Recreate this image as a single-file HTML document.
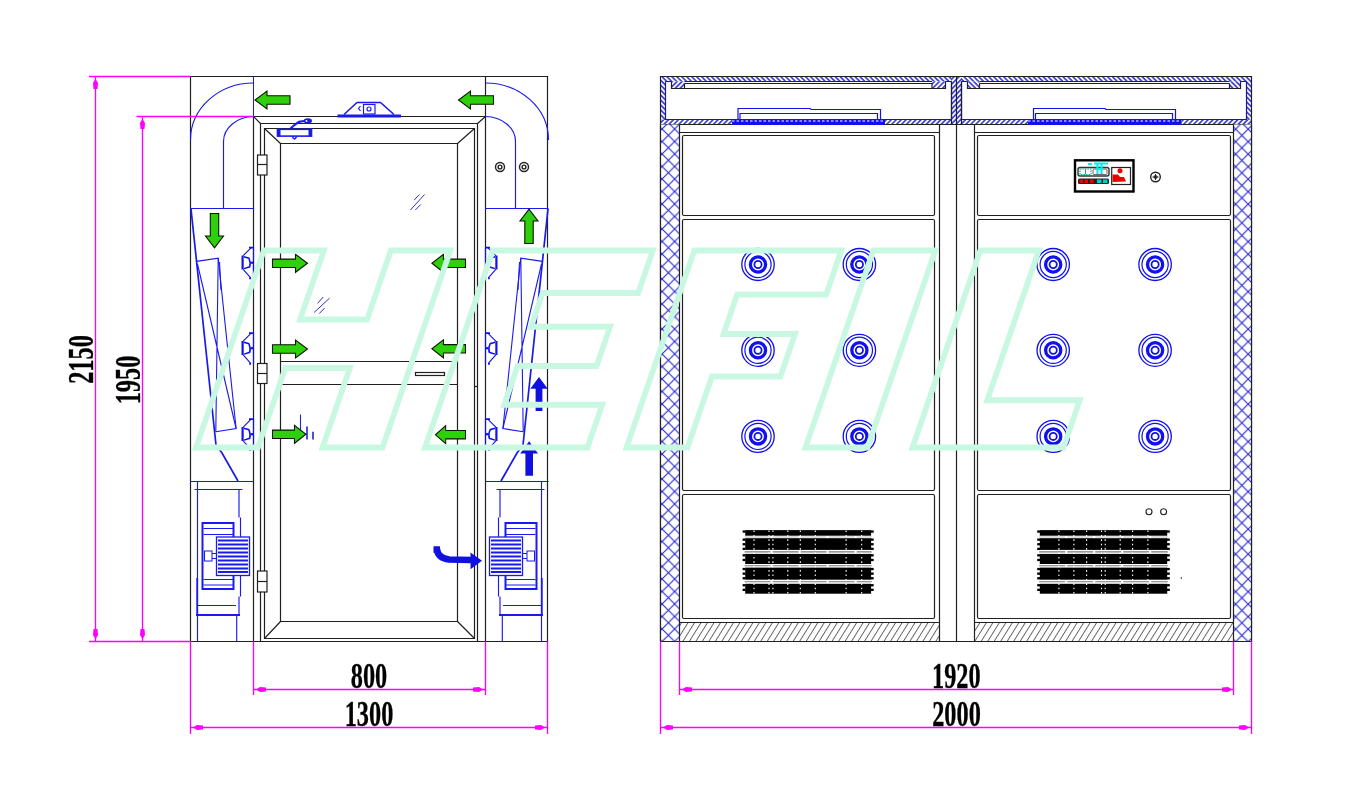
<!DOCTYPE html>
<html><head><meta charset="utf-8"><title>Air Shower Drawing</title>
<style>
html,body{margin:0;padding:0;background:#fff;width:1352px;height:790px;overflow:hidden;}
svg{display:block;}
text{font-family:"Liberation Serif",serif;font-weight:bold;}
</style></head><body>
<svg width="1352" height="790" viewBox="0 0 1352 790">
<defs>
  <pattern id="hb" patternUnits="userSpaceOnUse" width="3.5" height="3.5" patternTransform="rotate(-45)">
    <rect width="3.5" height="3.5" fill="#fff"/>
    <line x1="0.9" y1="0" x2="0.9" y2="3.5" stroke="#2a2ad0" stroke-width="1.5"/>
  </pattern>
  <pattern id="hf" patternUnits="userSpaceOnUse" width="3.5" height="3.5" patternTransform="rotate(45)">
    <rect width="3.5" height="3.5" fill="#fff"/>
    <line x1="0.9" y1="0" x2="0.9" y2="3.5" stroke="#2a2ad0" stroke-width="1.5"/>
  </pattern>
  <pattern id="xb" patternUnits="userSpaceOnUse" width="12.5" height="12.5" x="-0.4" y="4">
    <rect width="12.5" height="12.5" fill="#fff"/>
    <path d="M0,0 L12.5,12.5 M0,12.5 L12.5,0" stroke="#2424d8" stroke-width="1.1"/>
  </pattern>
  <pattern id="xb2" patternUnits="userSpaceOnUse" width="12.5" height="12.5" x="10.65" y="4.15">
    <rect width="12.5" height="12.5" fill="#fff"/>
    <path d="M0,0 L12.5,12.5 M0,12.5 L12.5,0" stroke="#2424d8" stroke-width="1.1"/>
  </pattern>
  <pattern id="hg" patternUnits="userSpaceOnUse" width="5.5" height="5.5" patternTransform="rotate(32)">
    <rect width="5.5" height="5.5" fill="#fff"/>
    <line x1="0.5" y1="0" x2="0.5" y2="5.5" stroke="#5a5a5a" stroke-width="0.9"/>
  </pattern>
  <!-- green arrow pointing right, tip at (35,0) -->
  <path id="arR" d="M0,-4.2 L23,-4.2 L23,-9 L35,0 L23,9 L23,4.2 L0,4.2 Z" fill="#2ed00c" stroke="#0a1500" stroke-width="1.1"/>
  <!-- nozzle front view -->
  <g id="noz" fill="none" stroke="#1010f0">
    <ellipse cx="0" cy="0" rx="16.2" ry="16" stroke-width="1.3"/>
    <circle cx="0" cy="0" r="13.1" stroke-width="1.2"/>
    <circle cx="0" cy="0" r="7.6" stroke-width="3.3"/>
    <circle cx="0" cy="0" r="3.6" stroke-width="1.8"/>
  </g>
  <!-- side nozzle (left column) facing right -->
  <g id="snz" fill="none" stroke="#1010f0">
    <line x1="0" y1="-15.8" x2="0" y2="16" stroke-width="1.2"/>
    <path d="M-4.5,-15.4 H0 M-4.3,15.4 H-2.5" stroke-width="1.6"/>
    <path d="M-10.3,-7.3 L-2.3,-15.4 M-10.3,6.3 L-2.8,14.9" stroke-width="1.1"/>
    <line x1="-10.9" y1="-7.5" x2="-10.9" y2="6.5" stroke-width="2.2"/>
    <path d="M-9.6,-6.2 L-4.6,-4.8 Q-2.6,0 -3.8,3.8 L-9.4,5.6" stroke-width="1.5"/>
    <path d="M-3.2,-0.3 H0" stroke-width="2.2"/>
  </g>
</defs>

<!-- ================= LEFT VIEW ================= -->
<g id="leftview" fill="none" stroke="#202020" stroke-width="1.2">
  <!-- outer box -->
  <path d="M190.5,76.5 H547.5 V641.5 H190.5 Z"/>
  <line x1="253.5" y1="116.5" x2="253.5" y2="641.5"/>
  <line x1="485.5" y1="76.5" x2="485.5" y2="641.5"/>
  <line x1="253.5" y1="116.5" x2="485.5" y2="116.5"/>
  <!-- door -->
  <path d="M260.5,641.5 V123.5 H477.5 V641.5"/>
  <path d="M264.5,638.5 V128.5 H474.5 V638.5 Z"/>
  <path d="M280.5,621.5 V143.5 H457.5 V621.5 Z"/>
  <line x1="280.5" y1="361.5" x2="457.5" y2="361.5"/>
  <line x1="280.5" y1="384.5" x2="457.5" y2="384.5"/>
  <path d="M253.5,116.5 L260.5,123.5 M485.5,116.5 L477.5,123.5 M264.5,128.5 L280.5,143.5 M474.5,128.5 L457.5,143.5 M264.5,638.5 L280.5,621.5 M474.5,638.5 L457.5,621.5"/>
  <rect x="415.5" y="372.5" width="29" height="3"/>
  <!-- hinges -->
  <g fill="#fff">
    <rect x="257.5" y="155" width="9.5" height="20"/><line x1="257.5" y1="164.5" x2="267" y2="164.5"/>
    <rect x="257.5" y="363.5" width="9.5" height="20"/><line x1="257.5" y1="373.5" x2="267" y2="373.5"/>
    <rect x="257.5" y="571" width="9.5" height="21"/><line x1="257.5" y1="581.5" x2="267" y2="581.5"/>
  </g>
  <path d="M474.5,386.5 H477.5"/>
  <!-- screws top right -->
  <g stroke-width="1.4" stroke="#222">
    <circle cx="500" cy="167" r="4.5"/><circle cx="500" cy="167" r="1.9"/>
    <circle cx="524" cy="167" r="4.5"/><circle cx="524" cy="167" r="1.9"/>
  </g>
</g>

<!-- top line blue segment and ducts -->
<g fill="none" stroke="#1a1aee" stroke-width="1">
  <line x1="253.5" y1="76.5" x2="253.5" y2="116.5"/>
</g>

<!-- left column blue internals (mirrored to right) -->
<g id="colL" fill="none" stroke="#1a1aee" stroke-width="1.15">
  <path d="M253.5,83 A63,57 0 0 0 190.5,140"/>
  <path d="M253.5,116.5 A30.5,25 0 0 0 223.5,141.5 V208.5"/>
  <line x1="190.5" y1="208.5" x2="253.5" y2="208.5"/>
  <!-- duct wall / filter -->
  <path d="M191,209 L216,445 L222,453 L238,481" stroke-width="1.7"/>
  <path d="M196.6,261.4 L218.2,258.2 L236.1,428.5 L215.8,431.8" stroke-width="1.1"/>
  <path d="M218.2,258.2 L215.8,431.8 M197.5,264 L236.1,428.5 M219.5,262 L221,290" stroke-width="1.1"/>
  <!-- fan section -->
  <line x1="190.5" y1="481.5" x2="253.5" y2="481.5"/>
  <line x1="194.5" y1="489.5" x2="242.5" y2="489.5"/>
  <line x1="197.5" y1="481.5" x2="197.5" y2="641.5"/>
  <path d="M239,489.5 V517.5 M240.5,517.5 V596.5 M239,596.5 V615"/>
  <line x1="197.2" y1="578" x2="197.2" y2="616" stroke-width="1.8"/>
  <rect x="202.5" y="523" width="31" height="66" stroke-width="2"/>
  <path d="M203.5,528.5 H233 M203.5,534.5 H233 M203.5,579.5 H233 M203.5,585 H233" stroke-width="1"/>
  <rect x="216.5" y="537" width="33" height="38.5" fill="#fff" stroke-width="1.3"/>
  <path d="M218,540.5 H248 M218,544.5 H248 M218,548.5 H248 M218,552.5 H248 M218,556.5 H248 M218,560.5 H248 M218,564.5 H248 M218,568.5 H248 M218,572 H248" stroke-width="2.1"/>
  <rect x="204.5" y="551" width="7.5" height="10" stroke-width="1"/>
  <path d="M212,553.5 H216.5 M212,558.5 H216.5" stroke-width="1"/>
  <line x1="198" y1="605.5" x2="236" y2="605.5"/>
  <line x1="196" y1="615" x2="240" y2="615" stroke-width="2"/>
  <line x1="236.7" y1="615" x2="236.7" y2="641.5"/>
  <!-- side nozzles -->
  <use href="#snz" transform="translate(253.5,263)"/>
  <use href="#snz" transform="translate(253.5,348.5)"/>
  <use href="#snz" transform="translate(253.5,434.5)"/>
</g>
<use href="#colL" transform="matrix(-1,0,0,1,739,0)"/>

<!-- door closer & top bar -->
<g fill="none" stroke="#1a1aee">
  <rect x="277.5" y="129.3" width="34" height="6.8" stroke-width="1.6"/>
  <rect x="277" y="129" width="3.5" height="7.5" fill="#1a1aee" stroke="none"/>
  <rect x="308.5" y="129" width="3.5" height="7.5" fill="#1a1aee" stroke="none"/>
  <path d="M290.5,128.5 L295,124.5 L299,121.8 L304,121" stroke-width="2.2"/>
  <ellipse cx="307.8" cy="120.8" rx="4.2" ry="2.6" fill="#1a1aee" stroke="none"/>
  <circle cx="306.5" cy="121" r="0.9" fill="#fff" stroke="none"/>
  <path d="M292.5,136.5 Q294.5,141.5 296.5,136.5" stroke-width="1.6"/>
  <line x1="337.5" y1="116" x2="401" y2="116" stroke-width="3.2"/>
  <path d="M344,114.5 L357,102.5 H380.5 L394,114.5" stroke-width="1.6"/>
  <rect x="363.5" y="104.5" width="11.5" height="9.5" stroke-width="1.2"/>
  <circle cx="369" cy="109" r="2" stroke-width="1.2"/>
  <path d="M360.5,106 L358.5,108.5 L360.5,111" stroke-width="1.2"/>
</g>

<!-- ================= RIGHT VIEW ================= -->
<g id="rightview">
  <!-- top hatched bands -->
  <rect x="660.5" y="76.5" width="591" height="5" fill="url(#hb)"/>
  <rect x="660.5" y="76.5" width="5" height="48" fill="url(#hb)"/>
  <rect x="1246.5" y="76.5" width="5" height="48" fill="url(#hb)"/>
  <rect x="951.5" y="76.5" width="10" height="48" fill="url(#hf)"/>
  <rect x="660.5" y="119.5" width="591" height="5" fill="url(#hf)"/>
  <rect x="671.5" y="81.5" width="13" height="7" fill="url(#hf)"/>
  <rect x="932" y="81.5" width="13.5" height="7" fill="url(#hf)"/>
  <rect x="967.5" y="81.5" width="12" height="7" fill="url(#hb)"/>
  <rect x="1229.5" y="81.5" width="11" height="7" fill="url(#hb)"/>
  <g fill="none" stroke="#202020" stroke-width="1.2">
    <path d="M660.5,76.5 H1251.5 V641.5 H660.5 Z"/>
    <path d="M665.5,81.5 V119.5 H951.5 V81.5 M961.5,81.5 V119.5 H1246.5 V81.5 M665.5,81.5 H671.5 M684.5,81.5 H932 M945.5,81.5 H951.5 M961.5,81.5 H967.5 M979.5,81.5 H1229.5 M1240.5,81.5 H1246.5" stroke="#1c1c80"/>
    <path d="M684.5,83.5 H932 M684.5,88.5 H932 M979.5,83.5 H1229.5 M979.5,88.5 H1229.5"/>
    <path d="M671.5,81.5 V88.5 H684.5 V83.5 M932,83.5 V88.5 H945.5 V81.5 M967.5,81.5 V88.5 H979.5 V83.5 M1229.5,83.5 V88.5 H1240.5 V81.5"/>
    <path d="M951.5,81.5 V124.5 M961.5,81.5 V124.5"/>
    <line x1="660.5" y1="124.5" x2="1251.5" y2="124.5"/>
    <line x1="956.5" y1="76.5" x2="956.5" y2="641.5"/>
  </g>
  <!-- hoods (blue) -->
  <g fill="none" stroke="#1010f0">
    <rect x="732" y="119" width="153" height="6" fill="#1010f0" stroke="none"/>
    <rect x="1028" y="119" width="153.5" height="6" fill="#1010f0" stroke="none"/>
    <path d="M732,121 H885 M1028,121 H1181.5" stroke="#fff" stroke-width="1" stroke-dasharray="2.5,2"/>
    <path d="M738,119 V108.5 H810 L811,109.5 H880.5 V119" stroke-width="1.2"/>
    <path d="M740,119 V113.5 H877.5 V119" stroke-width="1.2"/>
    <path d="M1033.5,119 V108.5 H1105 L1106,109.5 H1175.5 V119" stroke-width="1.2"/>
    <path d="M1035.5,119 V113.5 H1172.5 V119" stroke-width="1.2"/>
  </g>
  <!-- crosshatch columns -->
  <rect x="660.5" y="124.5" width="18.7" height="517" fill="url(#xb)"/>
  <rect x="1233.5" y="124.5" width="18" height="517" fill="url(#xb2)"/>
  <!-- base hatch -->
  <rect x="679.5" y="622.5" width="260" height="19" fill="url(#hg)"/>
  <rect x="974.5" y="622.5" width="259" height="19" fill="url(#hg)"/>
  <g fill="none" stroke="#202020" stroke-width="1.2">
    <path d="M660.5,124.5 V641.5 M679.5,124.5 V641.5 M1233.5,124.5 V641.5 M1251.5,124.5 V641.5"/>
    <path d="M679.5,132.5 H939.5 M939.5,124.5 V641.5 M679.5,622.5 H939.5"/>
    <path d="M974.5,641.5 V124.5 M974.5,132.5 H1233.5 M974.5,622.5 H1233.5"/>
    <!-- panels left -->
    <rect x="682.5" y="135.5" width="252" height="80" rx="1.5"/>
    <rect x="682.5" y="219.5" width="252" height="271" rx="1.5"/>
    <rect x="682.5" y="494.5" width="252" height="124" rx="1.5"/>
    <!-- panels right -->
    <rect x="977.5" y="135.5" width="253" height="80" rx="1.5"/>
    <rect x="977.5" y="219.5" width="253" height="271" rx="1.5"/>
    <rect x="977.5" y="494.5" width="253" height="124" rx="1.5"/>
    <line x1="660.5" y1="641.5" x2="1251.5" y2="641.5"/>
  </g>
  <!-- nozzles -->
  <use href="#noz" x="758" y="264.5"/>
  <use href="#noz" x="758" y="350.3"/>
  <use href="#noz" x="758" y="436.4"/>
  <use href="#noz" x="859.4" y="264.5"/>
  <use href="#noz" x="859.4" y="350.3"/>
  <use href="#noz" x="859.4" y="436.4"/>
  <use href="#noz" x="1053.2" y="264.5"/>
  <use href="#noz" x="1053.2" y="350.3"/>
  <use href="#noz" x="1053.2" y="436.4"/>
  <use href="#noz" x="1155.1" y="264.5"/>
  <use href="#noz" x="1155.1" y="350.3"/>
  <use href="#noz" x="1155.1" y="436.4"/>
  <!-- grilles -->
  <g>
    <rect x="745.2" y="530.1" width="125.9" height="5.6" fill="#000"/>
    <rect x="742.6" y="530.4" width="2.8" height="2.3" fill="#000"/>
    <rect x="870.9" y="530.4" width="2.8" height="2.3" fill="#000"/>
    <rect x="745.2" y="538.2" width="125.9" height="11.7" fill="#000"/>
    <rect x="742.6" y="538.5" width="2.8" height="2.3" fill="#000"/>
    <rect x="870.9" y="538.5" width="2.8" height="2.3" fill="#000"/>
    <rect x="742.6" y="543.1" width="2.8" height="2.3" fill="#000"/>
    <rect x="870.9" y="543.1" width="2.8" height="2.3" fill="#000"/>
    <rect x="742.6" y="547.7" width="2.8" height="2.3" fill="#000"/>
    <rect x="870.9" y="547.7" width="2.8" height="2.3" fill="#000"/>
    <rect x="745.2" y="553.9" width="125.9" height="10.1" fill="#000"/>
    <rect x="742.6" y="554.2" width="2.8" height="2.3" fill="#000"/>
    <rect x="870.9" y="554.2" width="2.8" height="2.3" fill="#000"/>
    <rect x="742.6" y="558.8" width="2.8" height="2.3" fill="#000"/>
    <rect x="870.9" y="558.8" width="2.8" height="2.3" fill="#000"/>
    <rect x="745.2" y="567.6" width="125.9" height="12.1" fill="#000"/>
    <rect x="742.6" y="567.9" width="2.8" height="2.3" fill="#000"/>
    <rect x="870.9" y="567.9" width="2.8" height="2.3" fill="#000"/>
    <rect x="742.6" y="572.5" width="2.8" height="2.3" fill="#000"/>
    <rect x="870.9" y="572.5" width="2.8" height="2.3" fill="#000"/>
    <rect x="742.6" y="577.1" width="2.8" height="2.3" fill="#000"/>
    <rect x="870.9" y="577.1" width="2.8" height="2.3" fill="#000"/>
    <rect x="745.2" y="583.8" width="125.9" height="9.9" fill="#000"/>
    <rect x="742.6" y="584.1" width="2.8" height="2.3" fill="#000"/>
    <rect x="870.9" y="584.1" width="2.8" height="2.3" fill="#000"/>
    <rect x="742.6" y="588.7" width="2.8" height="2.3" fill="#000"/>
    <rect x="870.9" y="588.7" width="2.8" height="2.3" fill="#000"/>
    <line x1="744.6" y1="537.0" x2="871.7" y2="537.0" stroke="#aaa" stroke-width="0.8" stroke-dasharray="26,2"/>
    <line x1="744.6" y1="551.9" x2="871.7" y2="551.9" stroke="#777" stroke-width="1.1" stroke-dasharray="26,2"/>
    <line x1="744.6" y1="565.8" x2="871.7" y2="565.8" stroke="#777" stroke-width="1.1" stroke-dasharray="26,2"/>
    <line x1="744.6" y1="581.75" x2="871.7" y2="581.75" stroke="#777" stroke-width="1.1" stroke-dasharray="26,2"/>
    <line x1="754" y1="530.5" x2="754" y2="593.5" stroke="#fff" stroke-width="1.1" stroke-dasharray="1.6,2.8"/>
    <line x1="769" y1="530.5" x2="769" y2="593.5" stroke="#fff" stroke-width="1.1" stroke-dasharray="1.6,2.8"/>
    <line x1="772.9" y1="530.5" x2="772.9" y2="593.5" stroke="#fff" stroke-width="1.1" stroke-dasharray="1.6,2.8"/>
    <line x1="787.8" y1="530.5" x2="787.8" y2="593.5" stroke="#fff" stroke-width="1.1" stroke-dasharray="1.6,2.8"/>
    <line x1="800.3" y1="530.5" x2="800.3" y2="593.5" stroke="#fff" stroke-width="1.1" stroke-dasharray="1.6,2.8"/>
    <line x1="815.3" y1="530.5" x2="815.3" y2="593.5" stroke="#fff" stroke-width="1.1" stroke-dasharray="1.6,2.8"/>
    <line x1="846.1" y1="530.5" x2="846.1" y2="593.5" stroke="#fff" stroke-width="1.1" stroke-dasharray="1.6,2.8"/>
    <line x1="861.7" y1="530.5" x2="861.7" y2="593.5" stroke="#fff" stroke-width="1.1" stroke-dasharray="1.6,2.8"/>
  </g>
  <g>
    <rect x="1039.8" y="530.1" width="127.4" height="5.6" fill="#000"/>
    <rect x="1037.2" y="530.4" width="2.8" height="2.3" fill="#000"/>
    <rect x="1167.0" y="530.4" width="2.8" height="2.3" fill="#000"/>
    <rect x="1039.8" y="538.2" width="127.4" height="11.7" fill="#000"/>
    <rect x="1037.2" y="538.5" width="2.8" height="2.3" fill="#000"/>
    <rect x="1167.0" y="538.5" width="2.8" height="2.3" fill="#000"/>
    <rect x="1037.2" y="543.1" width="2.8" height="2.3" fill="#000"/>
    <rect x="1167.0" y="543.1" width="2.8" height="2.3" fill="#000"/>
    <rect x="1037.2" y="547.7" width="2.8" height="2.3" fill="#000"/>
    <rect x="1167.0" y="547.7" width="2.8" height="2.3" fill="#000"/>
    <rect x="1039.8" y="553.9" width="127.4" height="10.1" fill="#000"/>
    <rect x="1037.2" y="554.2" width="2.8" height="2.3" fill="#000"/>
    <rect x="1167.0" y="554.2" width="2.8" height="2.3" fill="#000"/>
    <rect x="1037.2" y="558.8" width="2.8" height="2.3" fill="#000"/>
    <rect x="1167.0" y="558.8" width="2.8" height="2.3" fill="#000"/>
    <rect x="1039.8" y="567.6" width="127.4" height="12.1" fill="#000"/>
    <rect x="1037.2" y="567.9" width="2.8" height="2.3" fill="#000"/>
    <rect x="1167.0" y="567.9" width="2.8" height="2.3" fill="#000"/>
    <rect x="1037.2" y="572.5" width="2.8" height="2.3" fill="#000"/>
    <rect x="1167.0" y="572.5" width="2.8" height="2.3" fill="#000"/>
    <rect x="1037.2" y="577.1" width="2.8" height="2.3" fill="#000"/>
    <rect x="1167.0" y="577.1" width="2.8" height="2.3" fill="#000"/>
    <rect x="1039.8" y="583.8" width="127.4" height="9.9" fill="#000"/>
    <rect x="1037.2" y="584.1" width="2.8" height="2.3" fill="#000"/>
    <rect x="1167.0" y="584.1" width="2.8" height="2.3" fill="#000"/>
    <rect x="1037.2" y="588.7" width="2.8" height="2.3" fill="#000"/>
    <rect x="1167.0" y="588.7" width="2.8" height="2.3" fill="#000"/>
    <line x1="1039.2" y1="537.0" x2="1167.8" y2="537.0" stroke="#aaa" stroke-width="0.8" stroke-dasharray="26,2"/>
    <line x1="1039.2" y1="551.9" x2="1167.8" y2="551.9" stroke="#777" stroke-width="1.1" stroke-dasharray="26,2"/>
    <line x1="1039.2" y1="565.8" x2="1167.8" y2="565.8" stroke="#777" stroke-width="1.1" stroke-dasharray="26,2"/>
    <line x1="1039.2" y1="581.75" x2="1167.8" y2="581.75" stroke="#777" stroke-width="1.1" stroke-dasharray="26,2"/>
    <line x1="1058.9" y1="530.5" x2="1058.9" y2="593.5" stroke="#fff" stroke-width="1.1" stroke-dasharray="1.6,2.8"/>
    <line x1="1073.9" y1="530.5" x2="1073.9" y2="593.5" stroke="#fff" stroke-width="1.1" stroke-dasharray="1.6,2.8"/>
    <line x1="1086.6" y1="530.5" x2="1086.6" y2="593.5" stroke="#fff" stroke-width="1.1" stroke-dasharray="1.6,2.8"/>
    <line x1="1101.5" y1="530.5" x2="1101.5" y2="593.5" stroke="#fff" stroke-width="1.1" stroke-dasharray="1.6,2.8"/>
    <line x1="1105.2" y1="530.5" x2="1105.2" y2="593.5" stroke="#fff" stroke-width="1.1" stroke-dasharray="1.6,2.8"/>
    <line x1="1120.2" y1="530.5" x2="1120.2" y2="593.5" stroke="#fff" stroke-width="1.1" stroke-dasharray="1.6,2.8"/>
    <line x1="1132.6" y1="530.5" x2="1132.6" y2="593.5" stroke="#fff" stroke-width="1.1" stroke-dasharray="1.6,2.8"/>
    <line x1="1147.9" y1="530.5" x2="1147.9" y2="593.5" stroke="#fff" stroke-width="1.1" stroke-dasharray="1.6,2.8"/>
  </g>
  <!-- small circles bottom right cabinet -->
  <g fill="none" stroke="#222" stroke-width="1.1">
    <circle cx="1149" cy="511.8" r="3"/>
    <circle cx="1163.6" cy="511.8" r="3"/>
  </g>
  <circle cx="1181.3" cy="578.1" r="0.8" fill="#333"/>
  <!-- control panel -->
  <rect x="1075" y="160.3" width="58.5" height="31.2" fill="#fff" stroke="#000" stroke-width="2.4"/>
  <rect x="1078" y="167.5" width="31" height="8.5" rx="2" fill="#fff" stroke="#333" stroke-width="1.4"/>
  <rect x="1080" y="169" width="11" height="5.5" fill="#fff" stroke="#1a9" stroke-width="1.2" stroke-dasharray="1.5,1"/>
  <line x1="1085.5" y1="169" x2="1085.5" y2="174.5" stroke="#1a9" stroke-width="1"/>
  <rect x="1093" y="169" width="14" height="5.5" rx="1" fill="#fff" stroke="#444" stroke-width="0.8"/>
  <path d="M1097.5,164 V174 M1101.5,164 V174 M1097.5,169 H1101.5" stroke="#0ee" stroke-width="2.2" fill="none"/>
  <path d="M1088,164 H1092 M1094,163.5 H1108" stroke="#0ee" stroke-width="1.8" fill="none"/>
  <rect x="1078" y="178.5" width="31" height="5.5" rx="1.5" fill="#222"/>
  <rect x="1079.5" y="179.5" width="3.5" height="3.5" fill="#e00"/>
  <rect x="1084.5" y="179.5" width="3.5" height="3.5" fill="#e00"/>
  <rect x="1090" y="179.5" width="3.5" height="3.5" fill="#e00"/>
  <rect x="1097" y="179.5" width="4.5" height="3.5" fill="#0cc"/>
  <rect x="1103" y="179.5" width="4.5" height="3.5" fill="#0cc"/>
  <rect x="1111.7" y="167.5" width="18.8" height="17" fill="#fff" stroke="#222" stroke-width="1.2"/>
  <circle cx="1120" cy="170.8" r="2.5" fill="#e00"/>
  <path d="M1112.5,174.5 H1118 L1120,177 L1124,177 L1126,181.5 L1112.5,182 Z" fill="#e00"/>
  <!-- knob -->
  <g fill="none" stroke="#222">
    <circle cx="1155.5" cy="177" r="4.8" stroke-width="1.4"/>
    <circle cx="1155.5" cy="177" r="2" fill="#444" stroke="none"/>
    <path d="M1152.5,177 H1158.5 M1155.5,174 V180" stroke-width="1"/>
  </g>
</g>

<!-- ================= ARROWS (left view) ================= -->
<g>
  <path d="M300.5,414.5 V432" stroke="#2222dd" stroke-width="1.1" fill="none"/>
  <path d="M307,426.5 V439.5 M313,431.8 V439.5" stroke="#2222dd" stroke-width="1.6" fill="none"/>
  <use href="#arR" transform="translate(290,100) scale(-1,1)"/>
  <use href="#arR" transform="translate(493.5,100) scale(-1,1)"/>
  <use href="#arR" transform="translate(214.5,213.5) rotate(90) scale(0.98,1)"/>
  <use href="#arR" transform="translate(529,243.5) rotate(-90) scale(0.98,1)"/>
  <use href="#arR" transform="translate(272.5,263.3)"/>
  <use href="#arR" transform="translate(272.5,349)"/>
  <use href="#arR" transform="translate(272.5,434.3) scale(0.955,1)"/>
  <use href="#arR" transform="translate(465.5,263.3) scale(-0.96,1)"/>
  <use href="#arR" transform="translate(465.5,348.8) scale(-0.96,1)"/>
  <use href="#arR" transform="translate(465.5,434.7) scale(-0.86,1)"/>
  <!-- blue up arrows -->
  <path d="M535.6,411 V388.7 H530.3 L539,377 L547.7,388.7 H542.4 V411 Z" fill="#1010e0"/>
  <path d="M525.4,475.7 V453.5 H520.2 L529.1,441.3 L538,453.5 H533 V475.7 Z" fill="#1010e0"/>
  <!-- blue curved arrow -->
  <path d="M433.5,549.5 L437,549.5 Q438,558 449,559.5 L471,560" fill="none" stroke="#1010e0" stroke-width="6.5"/>
  <path d="M470.5,552.5 L482,560.7 L470.5,569.2 Z" fill="#1010e0"/>
  <!-- glass marks -->
  <path d="M410.4,210 L424.6,194.5 M414.2,200.1 L419.3,194.5 M415.3,210 L420.8,204.5" stroke="#3333cc" stroke-width="1" fill="none"/>
  <path d="M314.1,312.5 L329.6,298.1 M317.6,303.4 L323.2,297 M319.2,313.6 L324.7,308" stroke="#3333cc" stroke-width="1" fill="none"/>
  
</g>

<!-- ================= DIMENSIONS ================= -->
<g stroke="#ff00ff" stroke-width="1.35" fill="none">
  <!-- left verticals -->
  <line x1="89" y1="76.5" x2="190.5" y2="76.5"/>
  <line x1="136.5" y1="116.5" x2="253.5" y2="116.5"/>
  <line x1="89" y1="641.5" x2="190.5" y2="641.5"/>
  <line x1="95.5" y1="76.5" x2="95.5" y2="641.5"/>
  <line x1="142.5" y1="116.5" x2="142.5" y2="641.5"/>
  <!-- bottom left -->
  <line x1="190.5" y1="641.5" x2="190.5" y2="734"/>
  <line x1="547.5" y1="641.5" x2="547.5" y2="734"/>
  <line x1="253.5" y1="641.5" x2="253.5" y2="695"/>
  <line x1="485.5" y1="641.5" x2="485.5" y2="695"/>
  <line x1="253.5" y1="689.5" x2="485.5" y2="689.5"/>
  <line x1="190.5" y1="727.5" x2="547.5" y2="727.5"/>
  <!-- bottom right -->
  <line x1="660.5" y1="641.5" x2="660.5" y2="734"/>
  <line x1="1251.5" y1="641.5" x2="1251.5" y2="734"/>
  <line x1="679.5" y1="641.5" x2="679.5" y2="695"/>
  <line x1="1233.5" y1="641.5" x2="1233.5" y2="695"/>
  <line x1="679.5" y1="689.5" x2="1233.5" y2="689.5"/>
  <line x1="660.5" y1="727.5" x2="1251.5" y2="727.5"/>
</g>
<g fill="#ff00ff">
  <!-- arrowheads: vertical -->
  <path d="M95.5,79 L98,83 L97.5,89 L93.5,89 L93,83 Z"/>
  <path d="M95.5,639 L98,635 L97.5,629 L93.5,629 L93,635 Z"/>
  <path d="M142.5,119 L145,123 L144.5,129 L140.5,129 L140,123 Z"/>
  <path d="M142.5,639 L145,635 L144.5,629 L140.5,629 L140,635 Z"/>
  <!-- horizontal arrowheads -->
  <path d="M256,689.5 L260,687 L266,687.5 L266,691.5 L260,692 Z"/>
  <path d="M483,689.5 L479,687 L473,687.5 L473,691.5 L479,692 Z"/>
  <path d="M193,727.5 L197,725 L203,725.5 L203,729.5 L197,730 Z"/>
  <path d="M545,727.5 L541,725 L535,725.5 L535,729.5 L541,730 Z"/>
  <path d="M682,689.5 L686,687 L692,687.5 L692,691.5 L686,692 Z"/>
  <path d="M1232,689.5 L1228,687 L1222,687.5 L1222,691.5 L1228,692 Z"/>
  <path d="M663,727.5 L667,725 L673,725.5 L673,729.5 L667,730 Z"/>
  <path d="M1249,727.5 L1245,725 L1239,725.5 L1239,729.5 L1245,730 Z"/>
</g>
<g fill="#000" stroke="#000" stroke-width="0.35" style="opacity:0.999">
  <text transform="translate(369,687.5) scale(0.675,1)" font-size="36" text-anchor="middle">800</text>
  <text transform="translate(369,725.8) scale(0.675,1)" font-size="36" text-anchor="middle">1300</text>
  <text transform="translate(956.3,687.5) scale(0.675,1)" font-size="36" text-anchor="middle">1920</text>
  <text transform="translate(956.5,725.8) scale(0.675,1)" font-size="36" text-anchor="middle">2000</text>
  <text transform="translate(93,359.5) rotate(-90) scale(0.675,1)" font-size="36" text-anchor="middle">2150</text>
  <text transform="translate(139.7,380) rotate(-90) scale(0.675,1)" font-size="36" text-anchor="middle">1950</text>
</g>

<!-- ================= WATERMARK ================= -->
<g fill="none" stroke="#c8f8e2" stroke-width="6" stroke-linejoin="miter" transform="translate(0,447.5) skewX(-19)">
  <path d="M196,0 V-196.9 H256 V-128.1 H323 V-196.9 H382.5 V0 H322.5 V-79.4 H258 V0 Z"/>
  <path d="M425,0 V-196.9 H585 V-154.5 H489.5 V-120.8 H568.5 V-81.5 H489.5 V-42.7 H587.5 V0 Z"/>
  <path d="M626.5,0 V-196.9 H773.5 V-153 H684.5 V-113.4 H756 V-71 H687.5 V0 Z"/>
  <path d="M805.5,0 V-196.9 H867.5 V0 Z"/>
  <path d="M912.5,0 V-196.9 H971 V-47.2 H1063.5 V0 Z"/>
</g>
</svg>
</body></html>
